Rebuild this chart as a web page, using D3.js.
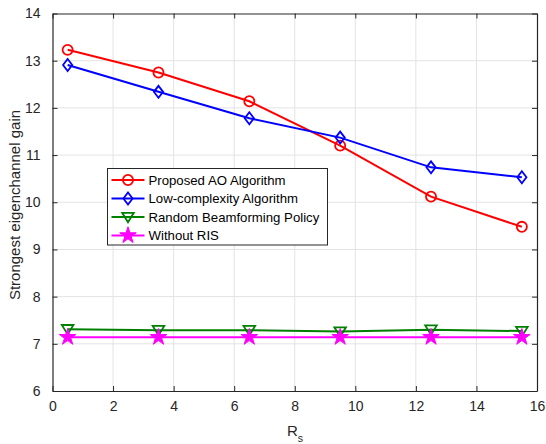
<!DOCTYPE html>
<html>
<head>
<meta charset="utf-8">
<script src="https://cdn.jsdelivr.net/npm/d3@7"></script>
<style>
  html, body { margin: 0; padding: 0; background: #fff; }
  svg { display: block; font-family: "Liberation Sans", Arial, Helvetica, sans-serif; }
</style>
</head>
<body>
<svg id="chart" width="546" height="444"></svg>
<script>
// Antenna spacing parameter R_s on the horizontal axis
const rsValues = [0.5, 3.5, 6.5, 9.5, 12.5, 15.5];

// Strongest eigenchannel gain for each scheme
const proposedAO    = [13.23, 12.75, 12.14, 11.20, 10.12, 9.48];
const lowComplexity = [12.91, 12.34, 11.78, 11.37, 10.74, 10.53];
const randomBF      = [7.31, 7.29, 7.29, 7.26, 7.30, 7.27];
const withoutRIS    = [7.14, 7.14, 7.14, 7.14, 7.14, 7.14];

const seriesNames = [
  "Proposed AO Algorithm",
  "Low-complexity Algorithm",
  "Random Beamforming Policy",
  "Without RIS"
];

const xTicks = [0, 2, 4, 6, 8, 10, 12, 14, 16];
const yTicks = [6, 7, 8, 9, 10, 11, 12, 13, 14];

const xTitle = "R";
const xTitleSub = "s";
const yTitle = "Strongest eigenchannel gain";

const series = [
  { name: seriesNames[0], values: proposedAO,    color: "#ff0000", marker: "circle" },
  { name: seriesNames[1], values: lowComplexity, color: "#0000ff", marker: "diamond" },
  { name: seriesNames[2], values: randomBF,      color: "#008000", marker: "triangleDown" },
  { name: seriesNames[3], values: withoutRIS,    color: "#ff00ff", marker: "star" }
];

const svg = d3.select("#chart");
const margin = { left: 52.5, right: 9, top: 13.5, bottom: 53 };
const W = 546, H = 444;
const x = d3.scaleLinear().domain([0, 16]).range([margin.left, W - margin.right]);
const y = d3.scaleLinear().domain([6, 14]).range([H - margin.bottom, margin.top]);

const axisColor = "#262626";
const gridColor = "#e3e3e3";

// grid
const grid = svg.append("g");
grid.selectAll("line.gx").data(xTicks.slice(1, -1)).enter().append("line")
  .attr("x1", d => x(d)).attr("x2", d => x(d))
  .attr("y1", y(6)).attr("y2", y(14))
  .attr("stroke", gridColor).attr("stroke-width", 1);
grid.selectAll("line.gy").data(yTicks.slice(1, -1)).enter().append("line")
  .attr("x1", x(0)).attr("x2", x(16))
  .attr("y1", d => y(d)).attr("y2", d => y(d))
  .attr("stroke", gridColor).attr("stroke-width", 1);

// axes (ticks inward on all four sides)
const tickLen = 5;
function styleAxis(g) {
  g.selectAll("path.domain").attr("stroke", axisColor).attr("stroke-width", 1.2);
  g.selectAll(".tick line").attr("stroke", axisColor).attr("stroke-width", 1);
  g.selectAll(".tick text").attr("fill", axisColor).style("font-size", "14px")
    .style("font-family", "'Liberation Sans', Arial, Helvetica, sans-serif");
}
svg.append("g").attr("transform", `translate(0,${y(6)})`)
  .call(d3.axisBottom(x).tickValues(xTicks).tickSizeInner(-tickLen).tickSizeOuter(0).tickPadding(10))
  .call(styleAxis);
svg.append("g").attr("transform", `translate(0,${y(14)})`)
  .call(d3.axisTop(x).tickValues(xTicks).tickSizeInner(-tickLen).tickSizeOuter(0).tickFormat(""))
  .call(styleAxis);
svg.append("g").attr("transform", `translate(${x(0)},0)`)
  .call(d3.axisLeft(y).tickValues(yTicks).tickSizeInner(-tickLen).tickSizeOuter(0).tickPadding(12))
  .call(styleAxis);
svg.append("g").attr("transform", `translate(${x(16)},0)`)
  .call(d3.axisRight(y).tickValues(yTicks).tickSizeInner(-tickLen).tickSizeOuter(0).tickFormat(""))
  .call(styleAxis);

// marker shapes
function markerPath(type) {
  switch (type) {
    case "circle": return d3.symbol(d3.symbolCircle, 80)();
    case "diamond": return "M0,-6L4.6,0L0,6L-4.6,0Z";
    case "triangleDown": return "M-5.8,-4.2L5.8,-4.2L0,5.2Z";
    case "star": return d3.symbol(d3.symbolStar, 85)();
  }
}
function drawMarker(g, type, color, cx, cy) {
  const filled = type === "star";
  g.append("path")
    .attr("d", markerPath(type))
    .attr("transform", `translate(${cx},${cy})`)
    .attr("fill", filled ? color : "none")
    .attr("stroke", color)
    .attr("stroke-width", filled ? 1 : 1.8)
    .attr("stroke-linejoin", "miter");
}

const line = d3.line().x(d => x(d[0])).y(d => y(d[1]));
const plot = svg.append("g");
series.forEach(s => {
  const pts = rsValues.map((r, i) => [r, s.values[i]]);
  plot.append("path").datum(pts)
    .attr("d", line).attr("fill", "none")
    .attr("stroke", s.color).attr("stroke-width", 2);
  pts.forEach(p => drawMarker(plot, s.marker, s.color, x(p[0]), y(p[1])));
});

// legend
const lg = svg.append("g");
const lx = 107.5, ly = 168.5, lw = 220, lh = 76.5;
lg.append("rect").attr("x", lx).attr("y", ly).attr("width", lw).attr("height", lh)
  .attr("fill", "#fff").attr("stroke", axisColor).attr("stroke-width", 1);
const rowY = [180, 198.5, 217, 235.5];
series.forEach((s, i) => {
  lg.append("line").attr("x1", 111.5).attr("x2", 144.5)
    .attr("y1", rowY[i]).attr("y2", rowY[i])
    .attr("stroke", s.color).attr("stroke-width", 2);
  drawMarker(lg, s.marker, s.color, 128, rowY[i]);
  lg.append("text").attr("x", 148.5).attr("y", rowY[i]).attr("dy", "0.36em")
    .attr("fill", "#000").style("font-size", "13.2px").text(s.name);
});

// axis titles
const xt = svg.append("text").attr("x", 295).attr("y", 436)
  .attr("text-anchor", "middle").attr("fill", axisColor).style("font-size", "15px");
xt.append("tspan").text(xTitle);
xt.append("tspan").attr("dy", 6).style("font-size", "10.5px").text(xTitleSub);

svg.append("text")
  .attr("transform", `translate(20,205) rotate(-90)`)
  .attr("text-anchor", "middle").attr("fill", axisColor)
  .style("font-size", "15px").text(yTitle);
</script>
</body>
</html>
